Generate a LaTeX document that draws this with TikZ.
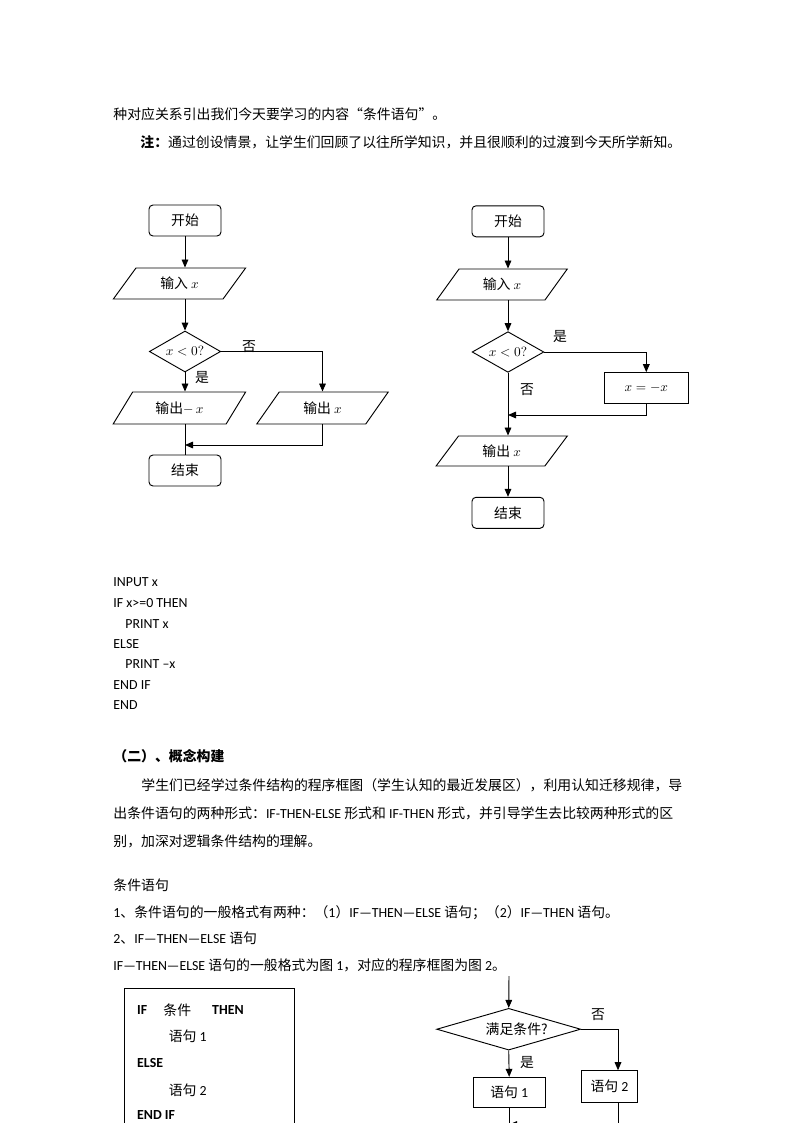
\documentclass[tikz,border=0pt]{standalone}
\usepackage{fontspec}
\setmainfont{Noto Sans CJK SC}
\newfontfamily\latfont{Carlito}
\newcommand\lat[1]{{\latfont #1}}
\newcommand\bodysize{\fontsize{10.4pt}{14pt}\selectfont}
\usetikzlibrary{shapes.geometric,arrows.meta}

\tikzset{
  startstop/.style={draw, rounded corners=3pt, minimum width=54pt, minimum height=23.25pt, inner sep=0pt},
  io/.style={draw, trapezium, trapezium left angle=52, trapezium right angle=128,
    trapezium stretches=true, minimum height=23.25pt, inner sep=0pt},
  decision/.style={draw, diamond, inner sep=0pt},
  process/.style={draw, minimum height=23pt, inner sep=0pt},
  txt/.style={anchor=base west, inner sep=0pt},
}

\begin{document}
\begin{tikzpicture}[x=0.75pt, y=-0.75pt, font=\bodysize, line width=0.7pt,
    >={Triangle[length=6pt,width=5pt]}]
  \useasboundingbox (0,0) rectangle (794,1123);
  \clip (0,0) rectangle (794,1123);

  % text above the charts
  \node[txt] (line1) at (113,120) {种对应关系引出我们今天要学习的内容“条件语句”。};
  \node[txt] (note) at (140,148) {\textbf{注：}通过创设情景，让学生们回顾了以往所学知识，并且很顺利的过渡到今天所学新知。};

  % first chart
  \node[startstop] (start1) at (185,220.5) {开始};
  \node[io, minimum width=99.3pt] (in1) at (179.5,283.5) {输入 $x$};
  \node[decision, aspect=1.74, minimum width=53.5pt, minimum height=30.75pt] (dec1) at (185,351.5) {$x<0?$};
  \node[io, minimum width=99.5pt, minimum height=24pt] (outneg1) at (179.4,408) {输出$-\,x$};
  \node[io, minimum width=98.7pt, minimum height=24pt] (outpos1) at (322.5,408) {输出 $x$};
  \node[startstop] (end1) at (185,470.5) {结束};
  \coordinate (j1) at (185,445);
  \node (no1) at (249,347) {否};
  \node (yes1) at (202,378) {是};

  \draw[->] (start1.south) -- (start1.south |- in1.north);
  \draw[->] (start1.south |- in1.south) -- (dec1.north);
  \draw[->] (dec1.east) -| (outpos1.north);
  \draw[->] (dec1.south) -- (dec1.south |- outneg1.north);
  \draw (dec1.south |- outneg1.south) -- (end1.north);
  \draw[->] (outpos1.south) |- (j1);

  % second chart
  \node[startstop] (start2) at (508,221.3) {开始};
  \node[io, minimum width=98pt] (in2) at (502,284.5) {输入 $x$};
  \node[decision, aspect=1.76, minimum width=53.8pt, minimum height=30.5pt] (dec2) at (508,352) {$x<0?$};
  \node[process, minimum width=63pt] (neg2) at (646.3,388) {$x=-x$};
  \node[io, minimum width=98.5pt, minimum height=22.5pt] (out2) at (501.7,451) {输出 $x$};
  \node[startstop] (end2) at (508,512.8) {结束};
  \coordinate (j2) at (508,415);
  \node (yes2) at (560,337) {是};
  \node (no2) at (527,390) {否};

  \draw[->] (start2.south) -- (start2.south |- in2.north);
  \draw[->] (start2.south |- in2.south) -- (dec2.north);
  \draw[->] (dec2.east) -| (neg2.north);
  \draw[->] (neg2.south) |- (j2);
  \draw[->] (dec2.south) -- (dec2.south |- out2.north);
  \draw[->] (dec2.south |- out2.south) -- (end2.north);

  % program text
  \node[txt] (c1) at (113,586) {\lat{INPUT x}};
  \node[txt] (c2) at (113,607) {\lat{IF x>=0 THEN}};
  \node[txt] (c3) at (125,628) {\lat{PRINT x}};
  \node[txt] (c4) at (113,648) {\lat{ELSE}};
  \node[txt] (c5) at (125,668.5) {\lat{PRINT –x}};
  \node[txt] (c6) at (113,689) {\lat{END IF}};
  \node[txt] (c7) at (113,709.5) {\lat{END}};

  % section text
  \node[txt] (head) at (113,761) {\textbf{（二）、概念构建}};
  \node[txt] (p1) at (141,790) {学生们已经学过条件结构的程序框图（学生认知的最近发展区），利用认知迁移规律，导};
  \node[txt] (p2) at (113,818.5) {出条件语句的两种形式：\lat{IF-THEN-ELSE }形式和\lat{ IF-THEN }形式，并引导学生去比较两种形式的区};
  \node[txt] (p3) at (113,846) {别，加深对逻辑条件结构的理解。};
  \node[txt] (s0) at (113,890) {条件语句};
  \node[txt] (s1t) at (113,917) {\lat{1}、条件语句的一般格式有两种：（\lat{1}）\lat{IF—THEN—ELSE }语句；（\lat{2}）\lat{IF—THEN }语句。};
  \node[txt] (s2t) at (113,943.5) {\lat{2}、\lat{IF—THEN—ELSE }语句};
  \node[txt] (s3t) at (113,970) {\lat{IF—THEN—ELSE }语句的一般格式为图\lat{ 1}，对应的程序框图为图\lat{ 2}。};

  % figure 1
  \draw (124,988) rectangle (294,1140);
  \node[txt] (kIf) at (136.7,1014.5) {\lat{\textbf{IF}}};
  \node[txt] (kCond) at (163,1015) {条件};
  \node[txt] (kThen) at (211.7,1014.5) {\lat{\textbf{THEN}}};
  \node[txt] (kS1) at (168.3,1041.5) {语句\lat{ 1}};
  \node[txt] (kElse) at (136.7,1067.8) {\lat{\textbf{ELSE}}};
  \node[txt] (kS2) at (168.3,1095) {语句\lat{ 2}};
  \node[txt] (kEnd) at (136.7,1119.5) {\lat{\textbf{END IF}}};

  % figure 2
  \coordinate (top3) at (509,976);
  \node[decision, aspect=3.45, minimum width=108pt, minimum height=31.3pt] (dec3) at (508.7,1029.2) {\hspace*{12pt}满足条件?};
  \coordinate (r3) at (618,1029.2);
  \node[process, minimum width=41.7pt, minimum height=24pt] (s2) at (609.5,1086.7) {语句\lat{ 2}};
  \node[process, minimum width=53.8pt, minimum height=22.5pt] (s1) at (509.2,1092.3) {语句\lat{ 1}};
  \coordinate (j3) at (509,1124.5);
  \node (no3) at (598,1015) {否};
  \node (yes3) at (527,1063) {是};

  \draw[->] (top3) -- (dec3.north);
  \draw (dec3.east) -- (r3);
  \draw[->] (r3) -- (r3 |- s2.north);
  \draw[->] (dec3.south) -- (s1.north);
  \draw (s1.south) -- ++(0,40);
  \draw (r3 |- s2.south) -- ++(0,40);
  \draw[->] (r3 |- j3) -- (j3);
\end{tikzpicture}
\end{document}
